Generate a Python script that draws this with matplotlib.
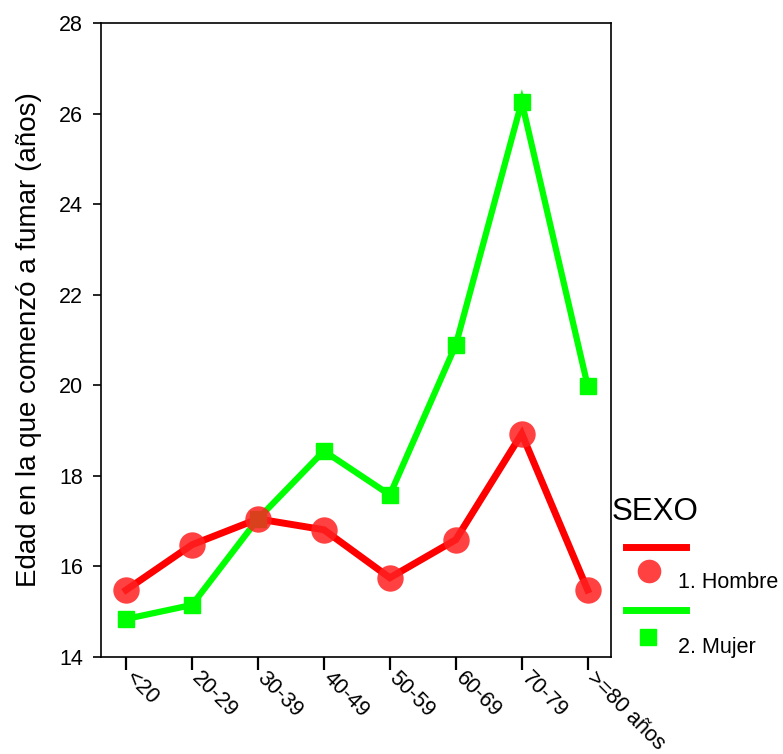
import matplotlib
matplotlib.use("Agg")
import matplotlib.pyplot as plt
from matplotlib.lines import Line2D
from matplotlib.transforms import ScaledTranslation

plt.rcParams["font.family"] = ["Liberation Sans", "DejaVu Sans"]

# Mean age of smoking onset by age group and sex
age_groups = ["<20", "20-29", "30-39", "40-49", "50-59", "60-69", "70-79", ">=80 años"]
hombre = [15.48, 16.48, 17.05, 16.81, 15.75, 16.59, 18.93, 15.48]
mujer = [14.84, 15.15, 17.05, 18.55, 17.58, 20.89, 26.26, 19.99]
y_ticks = [14, 16, 18, 20, 22, 24, 26, 28]

RED = "#ff0000"
GREEN = "#00ff00"

fig = plt.figure(figsize=(7.83, 7.54), dpi=100)
ax = fig.add_axes([0.129, 0.1286, 0.651, 0.8409])

x = list(range(len(age_groups)))

ax.plot(x, hombre, color=RED, lw=5, zorder=2, solid_joinstyle="miter")
ax.plot(x, mujer, color=GREEN, lw=4.5, zorder=3, solid_joinstyle="miter")
ax.plot(x, mujer, ls="none", marker="s", ms=12, color=GREEN, zorder=4)
ax.plot(x, hombre, ls="none", marker="o", ms=19, color="#ff2020", alpha=0.85,
        markeredgewidth=0, zorder=5)

ax.set_xlim(-0.38, 7.35)
ax.set_ylim(14, 28)
ax.set_yticks(y_ticks)
ax.set_yticklabels([str(v) for v in y_ticks], fontsize=15.5)
ax.set_xticks(x)
ax.set_xticklabels(age_groups, fontsize=15.5, rotation=-45, ha="left", va="top",
                   rotation_mode="anchor")
ax.tick_params(axis="y", direction="out", length=6, width=1.2, pad=7)
ax.tick_params(axis="x", direction="out", length=9, width=1.6, pad=2)
for s in ax.spines.values():
    s.set_linewidth(1.2)

# nudge the slanted category labels to the right of their ticks
shift = ScaledTranslation(10 / 100, 5 / 100, fig.dpi_scale_trans)
for lbl in ax.get_xticklabels():
    lbl.set_transform(lbl.get_transform() + shift)

ax.set_ylabel("Edad en la que comenzó a fumar (años)", fontsize=20, labelpad=12)

# Legend built by hand to the right of the plot area
fig.text(612 / 783, 1 - 512 / 754, "SEXO", fontsize=22.5, ha="left", va="center")
fig.add_artist(Line2D([626 / 783, 686 / 783], [1 - 547 / 754] * 2,
                      color=RED, lw=5, transform=fig.transFigure))
fig.add_artist(Line2D([649 / 783], [1 - 571 / 754], ls="none", marker="o",
                      ms=17, color="#ff2020", alpha=0.85, markeredgewidth=0,
                      transform=fig.transFigure))
fig.text(678 / 783, 1 - 583 / 754, "1. Hombre", fontsize=15.5, ha="left", va="center")
fig.add_artist(Line2D([626 / 783, 686 / 783], [1 - 610 / 754] * 2,
                      color=GREEN, lw=5, transform=fig.transFigure))
fig.add_artist(Line2D([648 / 783], [1 - 637 / 754], ls="none", marker="s",
                      ms=12, color=GREEN, transform=fig.transFigure))
fig.text(678 / 783, 1 - 648 / 754, "2. Mujer", fontsize=15.5, ha="left", va="center")

fig.savefig("out.png", dpi=100)
